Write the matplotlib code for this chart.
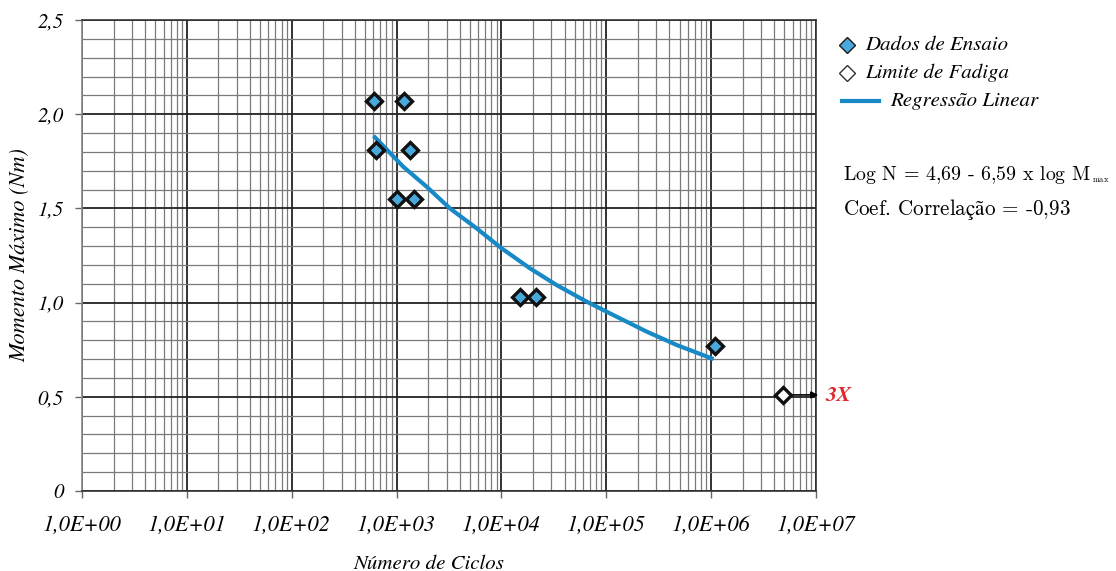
import numpy as np
import matplotlib
matplotlib.use("Agg")
import matplotlib.pyplot as plt
from matplotlib.lines import Line2D

plt.rcParams['mathtext.fontset'] = 'cm'

# ==========================================
# DATA
# ==========================================
ensaio_ciclos = [603, 1170, 630, 1330, 1000, 1480, 15100, 21500, 1.09e6]
ensaio_momento = [2.07, 2.07, 1.81, 1.81, 1.55, 1.55, 1.03, 1.03, 0.77]

fadiga_ciclos = [4.85e6]
fadiga_momento = [0.51]

regressao_ciclos = [623, 1159, 1937, 3228, 5804, 10050, 18700, 33600,
                    65000, 125600, 242700, 469000, 1.01e6]
regressao_momento = [1.877, 1.721, 1.615, 1.500, 1.394, 1.288, 1.182, 1.093,
                     1.005, 0.925, 0.846, 0.775, 0.704]

x_ticks = [1, 10, 100, 1e3, 1e4, 1e5, 1e6, 1e7]
x_labels = ["1,0E+00", "1,0E+01", "1,0E+02", "1,0E+03", "1,0E+04", "1,0E+05", "1,0E+06", "1,0E+07"]
y_ticks = [0, 0.5, 1.0, 1.5, 2.0, 2.5]
y_labels = ["0", "0,5", "1,0", "1,5", "2,0", "2,5"]

legend_labels = ["Dados de Ensaio", "Limite de Fadiga", "Regressão Linear"]

BLUE_FILL = "#4aa9dc"
BLUE_LINE = "#1689c6"
ITAL = dict(family="STIXGeneral", style="italic")

W, H = 1116, 571
fig = plt.figure(figsize=(W / 100, H / 100), dpi=100)
ax = fig.add_axes([82 / W, 1 - 491 / H, 734 / W, 471 / H])

ax.set_xscale("log")
ax.set_xlim(1, 1e7)
ax.set_ylim(0, 2.5)

# grid
ax.set_xticks(x_ticks)
ax.set_xticks([m * 10 ** d for d in range(7) for m in range(2, 10)], minor=True)
ax.set_yticks(y_ticks)
ax.set_yticks(np.arange(0.1, 2.5, 0.1), minor=True)
ax.grid(which="minor", color="#7a7a7a", linewidth=0.9)
ax.grid(which="major", color="#222222", linewidth=1.3)
ax.set_axisbelow(True)

ax.set_xticklabels(x_labels, fontsize=16, **ITAL)
ax.set_yticklabels(y_labels, fontsize=15, **ITAL)
ax.tick_params(which="major", length=5, width=1, color="#666666")
ax.tick_params(which="minor", length=0)
ax.tick_params(axis="x", pad=12)
ax.tick_params(axis="y", pad=8)
for sp in ax.spines.values():
    sp.set_color("#333333")
    sp.set_linewidth(1.2)
ax.spines["left"].set_color("#888888")

# regression line
ax.plot(regressao_ciclos, regressao_momento, color=BLUE_LINE, linewidth=3, zorder=3)

# test data
ax.plot(ensaio_ciclos, ensaio_momento, linestyle="none", marker="D", markersize=8.5,
        markerfacecolor=BLUE_FILL, markeredgecolor="#111111", markeredgewidth=2.4, zorder=4)

# fatigue limit
ax.plot(fadiga_ciclos, fadiga_momento, linestyle="none", marker="D", markersize=8.5,
        markerfacecolor="white", markeredgecolor="#111111", markeredgewidth=2.4, zorder=4)
ax.annotate("", xy=(1.05e7, fadiga_momento[0]), xytext=(5.4e6, fadiga_momento[0]),
            arrowprops=dict(arrowstyle="-|>", color="black", lw=1.2, mutation_scale=10,
                            shrinkA=0, shrinkB=0),
            annotation_clip=False)
ax.text(1.24e7, fadiga_momento[0], "3X", color="#e2262c", fontsize=16, family="STIXGeneral",
        style="italic", weight="bold", va="center", ha="left", clip_on=False)

fig.text(429 / W, 1 - 564 / H, "Número de Ciclos", fontsize=15, ha="center", va="center", **ITAL)
fig.text(20 / W, 1 - 255 / H, "Momento Máximo (Nm)", fontsize=16, rotation=90,
         ha="center", va="center", **ITAL)

# legend (drawn by hand so the keys sit like the reference)
rows = [45, 73, 101]
fig.add_artist(Line2D([847 / W], [1 - rows[0] / H], transform=fig.transFigure, linestyle="none",
                      marker="D", markersize=8, markerfacecolor=BLUE_FILL,
                      markeredgecolor="#1a1a1a", markeredgewidth=1.0))
fig.add_artist(Line2D([847 / W], [1 - rows[1] / H], transform=fig.transFigure, linestyle="none",
                      marker="D", markersize=8, markerfacecolor="white",
                      markeredgecolor="#333333", markeredgewidth=1.0))
fig.add_artist(Line2D([842 / W, 879 / W], [1 - rows[2] / H] * 2, transform=fig.transFigure,
                      color=BLUE_LINE, linewidth=3))
for lbl, r, x0 in zip(legend_labels, rows, [865, 865, 890]):
    fig.text(x0 / W, 1 - r / H, lbl, fontsize=15, ha="left", va="center", **ITAL)

# regression equation, with a tiny "max" subscript like the reference
eq = fig.text(843 / W, 1 - 180 / H, r"$\text{Log N = 4,69 - 6,59 x log M}$",
              fontsize=14.3, va="baseline", ha="left")
fig.canvas.draw()
bb = eq.get_window_extent(fig.canvas.get_renderer())
fig.text(bb.x1 / W + 0.5 / W, 1 - 182 / H, r"$\text{max}$", fontsize=6,
         va="baseline", ha="left")
fig.text(843 / W, 1 - 215 / H, r"$\text{Coef. Correlação = -0,93}$", fontsize=15.2,
         va="baseline", ha="left")

fig.savefig("out.png", dpi=100)
